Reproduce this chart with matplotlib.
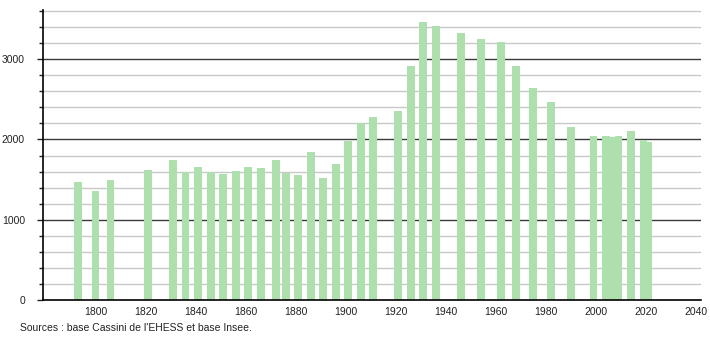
import matplotlib
matplotlib.use("Agg")
import matplotlib.pyplot as plt
import numpy as np

plt.rcParams['font.family'] = ['Liberation Sans', 'DejaVu Sans']

# census years and population
years = [1793, 1800, 1806, 1821, 1831, 1836, 1841, 1846, 1851, 1856,
         1861, 1866, 1872, 1876, 1881, 1886, 1891, 1896, 1901, 1906,
         1911, 1921, 1926, 1931, 1936, 1946, 1954, 1962, 1968, 1975,
         1982, 1990, 1999, 2004, 2006, 2007, 2008, 2009, 2014, 2019,
         2021]
population = [1473, 1353, 1498, 1619, 1747, 1594, 1656, 1594, 1573, 1606,
              1656, 1644, 1743, 1589, 1557, 1847, 1519, 1697, 1980, 2199,
              2283, 2354, 2914, 3462, 3416, 3329, 3250, 3213, 2918, 2644,
              2466, 2154, 2046, 2046, 2030, 2030, 2035, 2048, 2105, 1996,
              1971]
x_ticks = [1800, 1820, 1840, 1860, 1880, 1900, 1920, 1940, 1960, 1980,
           2000, 2020, 2040]
y_major = [0, 1000, 2000, 3000]
source_text = "Sources : base Cassini de l'EHESS et base Insee."

fig = plt.figure(figsize=(7.1, 3.4), dpi=100)
ax = fig.add_axes([43 / 710, 1 - 300.3 / 340, (701 - 43) / 710, (300.3 - 10) / 340])

# grid: light every 200, dark every 1000
for v in np.arange(200, 3601, 200):
    if v % 1000 == 0:
        ax.axhline(v, color='#3a3a3a', lw=1.0, zorder=1)
    else:
        ax.axhline(v, color='#c8c8c8', lw=1.0, zorder=1)

ax.bar(years, population, width=3.1, color='#aee0ae', zorder=2)

ax.set_xlim(1779, 2042)
ax.set_ylim(0, 3610)

ax.set_xticks(x_ticks)
ax.set_xticklabels([str(t) for t in x_ticks])
ax.tick_params(axis='x', length=0, pad=5, labelsize=7.5, colors='#222222')

ax.set_yticks(y_major)
ax.set_yticks(np.arange(200, 3601, 200), minor=True)
ax.tick_params(axis='y', which='major', length=4, width=1, pad=9,
               labelsize=7.5, colors='#222222')
ax.tick_params(axis='y', which='minor', length=3, width=1, color='#222222')

for s in ['top', 'right']:
    ax.spines[s].set_visible(False)
ax.spines['left'].set_color('black')
ax.spines['bottom'].set_color('black')
ax.spines['left'].set_linewidth(1.2)
ax.spines['bottom'].set_linewidth(1.2)
ax.spines['left'].set_zorder(3)
ax.spines['bottom'].set_zorder(3)

fig.text(20 / 710, 1 - 328 / 340, source_text, fontsize=7.5, color='#222222',
         va='center', ha='left')

fig.savefig('out.png', dpi=100)
